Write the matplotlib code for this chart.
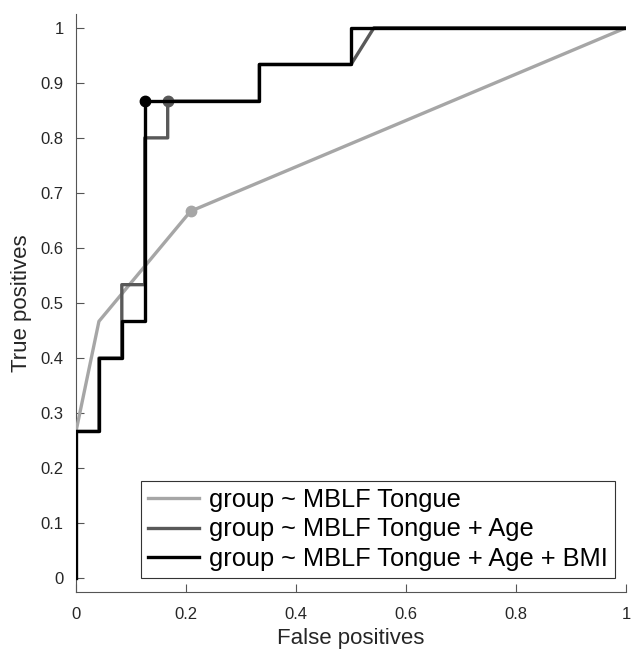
import matplotlib
matplotlib.use("Agg")
import matplotlib.pyplot as plt
from matplotlib.ticker import FuncFormatter

plt.rcParams['font.family'] = ['Liberation Sans', 'DejaVu Sans']

# ROC data (negatives n=24, positives n=15)
fp_tongue = [0, 0.0417, 0.2083, 1.0]
tp_tongue = [0.2667, 0.4667, 0.6667, 1.0]
opt_tongue = (0.2083, 0.6667)

fp_age = [0, 0, 0.0417, 0.0417, 0.0833, 0.0833, 0.125, 0.125, 0.1667, 0.1667, 0.3333, 0.3333, 0.5, 0.5417, 1.0]
tp_age = [0, 0.2667, 0.2667, 0.4, 0.4, 0.5333, 0.5333, 0.8, 0.8, 0.8667, 0.8667, 0.9333, 0.9333, 1.0, 1.0]
opt_age = (0.1667, 0.8667)

fp_bmi = [0, 0, 0.0417, 0.0417, 0.0833, 0.0833, 0.125, 0.125, 0.3333, 0.3333, 0.5, 0.5, 1.0]
tp_bmi = [0, 0.2667, 0.2667, 0.4, 0.4, 0.4667, 0.4667, 0.8667, 0.8667, 0.9333, 0.9333, 1.0, 1.0]
opt_bmi = (0.125, 0.8667)

labels = ["group ~ MBLF Tongue",
          "group ~ MBLF Tongue + Age",
          "group ~ MBLF Tongue + Age + BMI"]
colors = ["#a6a6a6", "#595959", "#000000"]

fig = plt.figure(figsize=(6.31, 6.51), dpi=100)
ax = fig.add_axes([76/631, 1-592/651, 550/631, 578/651])

lw = 2.4
ax.plot(fp_tongue, tp_tongue, color=colors[0], lw=lw, label=labels[0], zorder=2)
ax.plot(fp_age, tp_age, color=colors[1], lw=lw, label=labels[1], zorder=3)
ax.plot(fp_bmi, tp_bmi, color=colors[2], lw=lw, label=labels[2], zorder=4)
ax.plot(*opt_tongue, 'o', color=colors[0], ms=7.5, zorder=2)
ax.plot(*opt_age, 'o', color=colors[1], ms=7.5, zorder=3)
ax.plot(*opt_bmi, 'o', color=colors[2], ms=7.5, zorder=5)

ax.set_xlim(0, 1)
ax.set_ylim(-0.025, 1.025)
ax.set_xticks([0, 0.2, 0.4, 0.6, 0.8, 1])
ax.set_yticks([i/10 for i in range(11)])
fmt = FuncFormatter(lambda v, p: f"{v:g}")
ax.xaxis.set_major_formatter(fmt)
ax.yaxis.set_major_formatter(fmt)

axcol = "#262626"
for s in ["top", "right"]:
    ax.spines[s].set_visible(False)
for s in ["left", "bottom"]:
    ax.spines[s].set_color("#555555")
    ax.spines[s].set_linewidth(0.8)
ax.spines["left"].set_zorder(1)
ax.tick_params(direction="in", length=6, width=0.8, color="#555555",
               labelsize=12, labelcolor=axcol)
ax.tick_params(axis="x", pad=11)
ax.tick_params(axis="y", pad=9)
ax.set_xlabel("False positives", fontsize=16, color=axcol, labelpad=4)
ax.set_ylabel("True positives", fontsize=16, color=axcol, labelpad=6)

leg = ax.legend(loc="lower right", bbox_to_anchor=(0.98, 0.024), borderaxespad=0,
                fontsize=18.3, frameon=True, fancybox=False, framealpha=1,
                edgecolor="#333333", handlelength=2.0, handletextpad=0.4,
                labelspacing=0.22, borderpad=0.28)
leg.get_frame().set_linewidth(0.8)
for t in leg.get_texts():
    t.set_color("#000000")

fig.savefig("out.png", dpi=100)
